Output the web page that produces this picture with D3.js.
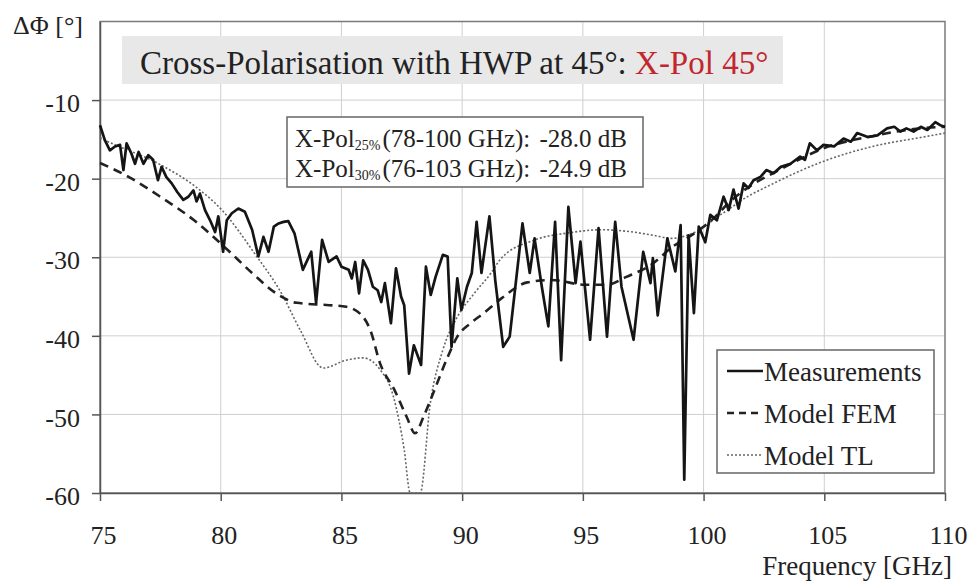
<!DOCTYPE html>
<html>
<head>
<meta charset="utf-8">
<script src="https://cdn.jsdelivr.net/npm/d3@7"></script>
<style>
  body { margin: 0; background: #fff; }
  svg { display: block; }
  text { font-family: "Liberation Serif", "Times New Roman", serif; fill: #222; }
</style>
</head>
<body>
<svg id="chart" width="974" height="581"></svg>
<script>
// Frequency [GHz] / phase [deg] pairs for each trace
const measurements = [
  [75.0,-13.2],[75.2,-15.1],[75.41,-16.4],[75.62,-15.9],[75.83,-15.7],[75.97,-18.9],[76.1,-15.5],
  [76.3,-16.8],[76.45,-18.1],[76.6,-16.6],[76.8,-18.1],[77.0,-17.0],[77.2,-17.6],[77.4,-20.2],
  [77.55,-18.5],[77.75,-19.8],[77.97,-20.6],[78.2,-21.7],[78.45,-22.7],[78.66,-22.3],[78.87,-21.5],
  [79.0,-22.9],[79.14,-21.9],[79.35,-24.0],[79.56,-25.3],[79.77,-26.8],[79.9,-24.8],[80.1,-29.3],
  [80.25,-25.3],[80.46,-24.4],[80.73,-23.8],[81.0,-24.2],[81.3,-26.5],[81.56,-29.9],[81.77,-27.4],
  [81.98,-29.3],[82.2,-26.1],[82.4,-25.7],[82.6,-25.5],[82.8,-25.4],[83.06,-27.0],[83.4,-31.6],
  [83.75,-29.3],[83.95,-35.8],[84.2,-27.8],[84.47,-30.6],[84.8,-29.9],[85.0,-31.2],[85.3,-31.6],
  [85.43,-32.7],[85.57,-30.6],[85.73,-34.6],[85.9,-30.4],[86.1,-31.6],[86.3,-33.75],[86.5,-34.2],
  [86.65,-35.7],[86.8,-33.3],[87.05,-38.4],[87.26,-31.4],[87.47,-35.0],[87.6,-36.1],[87.8,-44.8],
  [88.0,-41.2],[88.3,-43.7],[88.5,-31.2],[88.7,-34.8],[88.9,-32.5],[89.2,-29.7],[89.4,-29.9],
  [89.56,-41.4],[89.8,-32.7],[89.97,-36.7],[90.2,-33.75],[90.4,-32.0],[90.6,-25.5],[90.8,-32.0],
  [91.13,-24.8],[91.37,-32.9],[91.7,-41.4],[91.97,-40.1],[92.5,-25.7],[92.8,-32.0],[93.0,-27.6],
  [93.3,-33.75],[93.57,-38.8],[93.85,-25.5],[94.1,-43.1],[94.4,-23.6],[94.7,-33.3],[94.9,-28.0],
  [95.3,-40.5],[95.65,-26.3],[96.0,-40.1],[96.34,-25.5],[96.6,-33.75],[97.1,-40.5],[97.5,-29.3],
  [97.8,-33.3],[97.9,-30.1],[98.1,-37.4],[98.5,-27.6],[98.83,-31.8],[99.05,-25.9],[99.2,-58.3],
  [99.38,-27.2],[99.6,-37.1],[99.8,-26.1],[100.07,-28.1],[100.28,-24.6],[100.55,-25.3],[100.83,-22.3],
  [101.04,-24.0],[101.24,-21.4],[101.45,-23.8],[101.66,-20.6],[101.86,-21.2],[102.07,-20.2],
  [102.35,-19.8],[102.6,-18.9],[102.9,-19.3],[103.2,-18.5],[103.6,-18.1],[104.0,-17.2],[104.2,-17.6],
  [104.4,-15.5],[104.7,-16.4],[104.97,-15.7],[105.4,-15.9],[105.8,-14.9],[106.1,-15.3],[106.36,-14.2],
  [106.8,-14.7],[107.2,-14.5],[107.6,-13.6],[107.9,-13.4],[108.15,-14.0],[108.4,-13.6],[108.7,-14.0],
  [109.0,-13.4],[109.27,-13.8],[109.6,-12.8],[109.8,-13.2],[110.0,-13.4]
];

const modelFEM = [
  [75.0,-18.0],[76.2,-19.8],[77.5,-22.3],[78.9,-25.3],[80.3,-29.1],[81.3,-32.0],[82.4,-34.8],
  [83.15,-35.8],[84.5,-36.1],[85.2,-36.3],[85.9,-37.6],[86.2,-39.3],[86.6,-43.5],[87.2,-46.9],
  [87.7,-50.3],[88.05,-52.4],[88.4,-50.3],[88.8,-47.3],[89.4,-42.7],[89.8,-40.1],[90.35,-38.4],
  [90.9,-37.1],[91.6,-35.3],[92.7,-33.2],[93.7,-32.9],[95.1,-33.5],[96.0,-33.5],[96.8,-32.5],
  [97.9,-30.8],[98.7,-28.7],[99.6,-27.0],[100.5,-24.8],[101.0,-23.2],[102.0,-20.8],[103.0,-19.1],
  [104.0,-17.5],[105.0,-16.1],[106.0,-15.2],[107.0,-14.6],[108.0,-14.0],[109.0,-13.6],[110.0,-13.4]
];

const modelTL = [
  [75.0,-14.8],[75.2,-15.1],[77.55,-18.3],[78.95,-21.0],[80.05,-24.0],[81.4,-29.5],[82.5,-34.5],
  [83.3,-39.3],[84.25,-44.1],[85.2,-43.1],[85.9,-42.8],[86.6,-44.3],[87.15,-47.7],[87.6,-54.5],
  [87.85,-60.0],[88.26,-60.0],[88.68,-48.6],[89.2,-41.8],[89.8,-37.6],[90.5,-34.6],[91.2,-32.0],
  [91.6,-30.2],[93.0,-27.8],[94.4,-26.9],[95.8,-26.5],[97.1,-26.8],[97.9,-27.2],[98.7,-27.6],
  [99.5,-27.0],[100.0,-26.2],[100.5,-25.0],[101.0,-24.0],[101.5,-22.9],[102.9,-20.6],
  [104.96,-17.8],[107.0,-15.9],[109.1,-14.7],[110.0,-14.2]
];

const xTicks = [75, 80, 85, 90, 95, 100, 105, 110];
const yTicks = [-60, -50, -40, -30, -20, -10];
const legendLabels = ["Measurements", "Model FEM", "Model TL"];
const statLines = [
  { sub: "25%", range: "(78-100 GHz):", value: "-28.0 dB" },
  { sub: "30%", range: "(76-103 GHz):", value: "-24.9 dB" }
];

const svg = d3.select("#chart");
const plotLeft = 100, plotRight = 945, plotTop = 21.5, plotBottom = 493;

const x = d3.scaleLinear().domain([75, 110]).range([plotLeft, plotRight]);
const y = d3.scaleLinear().domain([-60, 0]).range([plotBottom, plotTop]);

// grid
const grid = svg.append("g").attr("stroke", "#cfcfcf").attr("stroke-width", 1);
grid.selectAll("line.v").data(xTicks.slice(1, -1)).join("line").attr("class", "v")
  .attr("x1", d => x(d)).attr("x2", d => x(d)).attr("y1", plotTop).attr("y2", plotBottom);
grid.selectAll("line.h").data(yTicks.slice(1)).join("line").attr("class", "h")
  .attr("x1", plotLeft).attr("x2", plotRight).attr("y1", d => y(d)).attr("y2", d => y(d));

// frame
svg.append("rect").attr("x", plotLeft).attr("y", plotTop)
  .attr("width", plotRight - plotLeft).attr("height", plotBottom - plotTop)
  .attr("fill", "none").attr("stroke", "#7a7a7a").attr("stroke-width", 1.5);

// axes (plain hyphen for negative numbers)
const styleAxis = g => {
  g.select(".domain").attr("stroke", "#555").attr("stroke-width", 1.5);
  g.selectAll(".tick line").attr("stroke", "#555").attr("stroke-width", 1.5);
  g.selectAll(".tick text").attr("fill", "#2a2a2a").style("font-size", "26px")
    .style("font-family", '"Liberation Serif", serif');
};
svg.append("g").attr("transform", `translate(${plotLeft},0)`)
  .call(d3.axisLeft(y).tickValues(yTicks).tickFormat(d => String(d))
    .tickSize(8).tickPadding(12).tickSizeOuter(0))
  .call(styleAxis)
  .call(g => g.selectAll(".tick text").attr("dy", "0.45em"));
svg.append("g").attr("transform", `translate(0,${plotBottom})`)
  .call(d3.axisBottom(x).tickValues(xTicks).tickFormat(d => String(d))
    .tickSize(8).tickPadding(25).tickSizeOuter(0))
  .call(styleAxis)
  .call(g => g.selectAll(".tick text").attr("dx", 3));

// title box
svg.append("rect").attr("x", 122).attr("y", 36).attr("width", 661).attr("height", 48).attr("fill", "#e8e8e8");
const title = svg.append("text").attr("x", 140).attr("y", 74).style("font-size", "33px");
title.append("tspan").text("Cross-Polarisation with HWP at 45°: ");
title.append("tspan").text("X-Pol 45°").style("fill", "#c1272d");

// axis labels
svg.append("text").attr("x", 13).attr("y", 34).style("font-size", "26px").text("ΔΦ [°]");
svg.append("text").attr("x", 952).attr("y", 575).attr("text-anchor", "end")
  .style("font-size", "27px").text("Frequency [GHz]");

// traces
const line = d3.line().x(d => x(d[0])).y(d => y(d[1]));
const smooth = d3.line().x(d => x(d[0])).y(d => y(d[1])).curve(d3.curveMonotoneX);

svg.append("path").datum(modelTL).attr("d", smooth)
  .attr("fill", "none").attr("stroke", "#666").attr("stroke-width", 1.6).attr("stroke-dasharray", "2,2");
svg.append("path").datum(modelFEM).attr("d", smooth)
  .attr("fill", "none").attr("stroke", "#222").attr("stroke-width", 2.6).attr("stroke-dasharray", "9,6");
svg.append("path").datum(measurements).attr("d", line)
  .attr("fill", "none").attr("stroke", "#151515").attr("stroke-width", 2.7).attr("stroke-linejoin", "round");

// statistics box
svg.append("rect").attr("x", 287).attr("y", 117).attr("width", 356).attr("height", 70)
  .attr("fill", "#fff").attr("stroke", "#666").attr("stroke-width", 1.5);
statLines.forEach((s, i) => {
  const base = 147 + i * 30;
  const t = svg.append("text").attr("x", 295).attr("y", base).style("font-size", "25px");
  t.append("tspan").text("X-Pol");
  t.append("tspan").attr("dy", 3).style("font-size", "14px").text(s.sub);
  t.append("tspan").attr("dy", -3).attr("dx", 2).text(s.range);
  svg.append("text").attr("x", 627).attr("y", base).attr("text-anchor", "end")
    .style("font-size", "25px").text(s.value);
});

// legend
svg.append("rect").attr("x", 717).attr("y", 350).attr("width", 217).attr("height", 123)
  .attr("fill", "#fff").attr("stroke", "#666").attr("stroke-width", 1.5);
const legendStyles = [
  { stroke: "#151515", width: 2.6, dash: null },
  { stroke: "#222", width: 2.6, dash: "7,5" },
  { stroke: "#666", width: 1.6, dash: "2,2" }
];
legendLabels.forEach((lab, i) => {
  const cy = 371 + i * 42;
  const st = legendStyles[i];
  svg.append("line").attr("x1", 727).attr("x2", 763).attr("y1", cy).attr("y2", cy)
    .attr("stroke", st.stroke).attr("stroke-width", st.width).attr("stroke-dasharray", st.dash);
  svg.append("text").attr("x", 764).attr("y", cy + 10).style("font-size", "27px").text(lab);
});
</script>
</body>
</html>
